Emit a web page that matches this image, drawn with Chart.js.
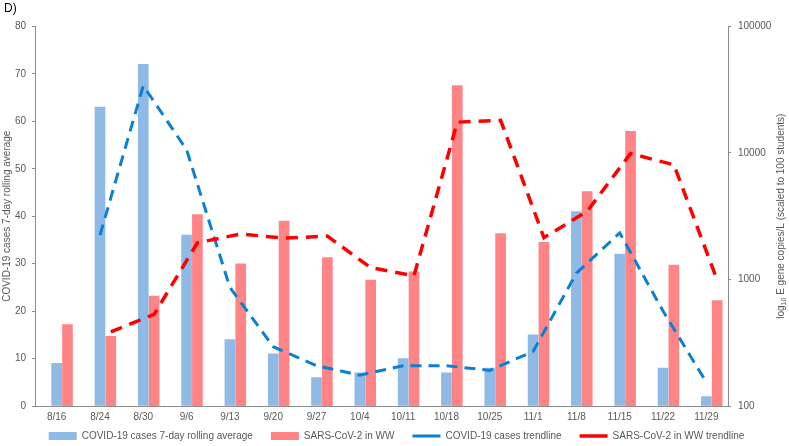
<!DOCTYPE html>
<html>
<head>
  <title>COVID-19 cases and SARS-CoV-2 in WW</title>
  <script src="https://cdn.jsdelivr.net/npm/chart.js@4.4.0/dist/chart.umd.min.js"></script>
  <style>
    html, body { margin: 0; padding: 0; background: #fff; }
  </style>
</head>
<body>
  <canvas id="wwChart" width="789" height="446"></canvas>

  <script>
    // week labels on the x axis
    var weeks = ['8/16', '8/24', '8/30', '9/6', '9/13', '9/20', '9/27', '10/4', '10/11',
                 '10/18', '10/25', '11/1', '11/8', '11/15', '11/22', '11/29'];

    // COVID-19 cases, 7-day rolling average (left axis)
    var casesAvg = [9, 63, 72, 36, 14, 11, 6, 7, 10, 7, 8, 15, 41, 32, 8, 2];

    // SARS-CoV-2 E gene copies/L in wastewater (right log axis)
    var wwCopies = [440, 355, 740, 3250, 1330, 2900, 1490, 990, 1150, 34000, 2310, 1970, 4950, 14800, 1300, 680];

    // trendlines
    var casesTrend = [null, 36, 67.5, 54, 25, 12.5, 8.5, 6.5, 8.5, 8.5, 7.5, 11.5, 28, 36.5, 20, 5];
    var wwTrend = [null, 385, 530, 1950, 2290, 2120, 2200, 1240, 1070, 17500, 18100, 2140, 3460, 9890, 8060, 990];

    var rightTicks = [100, 1000, 10000, 100000];

    var grey = '#595959';
    var axisGrey = '#8c8c8c';
    var font = 'Liberation Sans, Arial, sans-serif';

    // the red series sit just right of each week, so they use their own x scale (x2)
    function indexed(values) {
      var out = [];
      for (var i = 0; i < values.length; i++) {
        if (values[i] !== null) out.push({ x: i, y: values[i] });
      }
      return out;
    }

    // right axis title, drawn bottom-to-top with a real subscript
    var rightTitle = {
      id: 'rightTitle',
      afterDraw: function(chart) {
        var c = chart.ctx;
        var y1 = chart.scales.y1;
        var parts = [
          { t: 'log', size: 10, dy: 0 },
          { t: '10', size: 7, dy: 3 },
          { t: ' E gene copies/L (scaled to 100 students)', size: 10, dy: 0 }
        ];
        c.save();
        var total = 0;
        parts.forEach(function(p) {
          c.font = p.size + 'px ' + font;
          p.w = c.measureText(p.t).width;
          total += p.w;
        });
        c.translate(781, (y1.top + y1.bottom) / 2);
        c.rotate(-Math.PI / 2);
        c.fillStyle = grey;
        c.textBaseline = 'middle';
        var x = -total / 2;
        parts.forEach(function(p) {
          c.font = p.size + 'px ' + font;
          c.fillText(p.t, x, p.dy);
          x += p.w;
        });
        c.restore();
      }
    };

    var ctx = document.getElementById('wwChart').getContext('2d');

    var config = {
      type: 'bar',
      data: {
        labels: weeks,
        datasets: [
          {
            type: 'bar',
            label: 'COVID-19 cases 7-day rolling average',
            data: casesAvg,
            backgroundColor: '#8fbae5',
            borderWidth: 0,
            pointStyle: 'rect',
            yAxisID: 'y',
            order: 2
          },
          {
            type: 'bar',
            label: 'SARS-CoV-2 in WW',
            data: indexed(wwCopies),
            backgroundColor: '#ff8485',
            borderWidth: 0,
            pointStyle: 'rect',
            xAxisID: 'x2',
            yAxisID: 'y1',
            order: 2
          },
          {
            type: 'line',
            label: 'COVID-19 cases trendline',
            data: casesTrend,
            borderColor: '#0a80d4',
            backgroundColor: '#0a80d4',
            borderWidth: 3,
            borderDash: [11, 7],
            pointRadius: 0,
            pointStyle: 'line',
            fill: false,
            tension: 0,
            yAxisID: 'y',
            order: 1
          },
          {
            type: 'line',
            label: 'SARS-CoV-2 in WW trendline',
            data: indexed(wwTrend),
            borderColor: '#ff0000',
            backgroundColor: '#ff0000',
            borderWidth: 3.5,
            borderDash: [12, 8],
            pointRadius: 0,
            pointStyle: 'line',
            fill: false,
            tension: 0,
            xAxisID: 'x2',
            yAxisID: 'y1',
            order: 0
          }
        ]
      },
      options: {
        responsive: false,
        animation: false,
        layout: { padding: { left: 4, right: 0, top: 0, bottom: 0 } },
        datasets: {
          bar: { grouped: false, barThickness: 10 }
        },
        plugins: {
          tooltip: { enabled: false },
          title: {
            display: true,
            text: 'D)',
            align: 'start',
            color: '#000',
            font: { family: font, size: 12, weight: 'normal' },
            padding: { top: 1, bottom: 11 }
          },
          legend: {
            position: 'bottom',
            maxHeight: 33,
            labels: {
              usePointStyle: true,
              pointStyleWidth: 28,
              boxHeight: 8,
              padding: 18,
              color: grey,
              font: { family: font, size: 10 },
              sort: function(a, b) { return a.datasetIndex - b.datasetIndex; }
            }
          }
        },
        scales: {
          x: {
            type: 'category',
            offset: true,
            grid: { display: false },
            border: { display: true, color: axisGrey },
            // mirrored with a negative padding so the labels sit below the axis but are not clipped
            ticks: { color: grey, font: { family: font, size: 10 }, mirror: true, padding: -17, maxRotation: 0, autoSkip: false },
            afterFit: function(scale) { scale.height = 7; }
          },
          x2: {
            type: 'linear',
            display: false,
            min: -0.75,
            max: 15.25,
            offset: false
          },
          y: {
            position: 'left',
            min: 0,
            max: 80,
            ticks: { stepSize: 10, color: grey, font: { family: font, size: 10 }, padding: 6 },
            grid: { drawOnChartArea: false, drawTicks: true, tickLength: 3, color: axisGrey },
            border: { display: true, color: axisGrey },
            title: {
              display: true,
              text: 'COVID-19 cases 7-day rolling average',
              color: grey,
              font: { family: font, size: 10 },
              padding: { top: -3, bottom: 0 }
            },
            afterFit: function(scale) { scale.width = 31; }
          },
          y1: {
            type: 'logarithmic',
            position: 'right',
            min: 100,
            max: 100000,
            ticks: {
              color: grey,
              font: { family: font, size: 10 },
              padding: 7,
              callback: function(v) { return String(v); }
            },
            afterBuildTicks: function(scale) {
              scale.ticks = rightTicks.map(function(v) { return { value: v }; });
            },
            grid: { drawOnChartArea: false, drawTicks: true, tickLength: 3, color: axisGrey },
            border: { display: true, color: axisGrey },
            afterFit: function(scale) { scale.width = 61; }
          }
        }
      },
      plugins: [rightTitle]
    };

    var wwChart = new Chart(ctx, config);
  </script>
</body>
</html>
